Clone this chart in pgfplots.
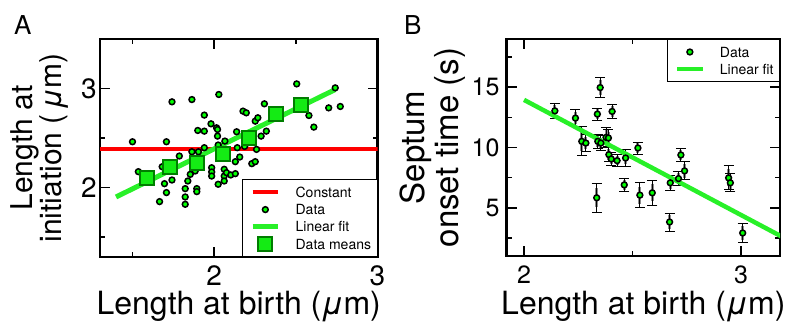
\documentclass[border=0pt]{standalone}
\usepackage{pgfplots}
\pgfplotsset{compat=1.18}
\usepackage{pgfplotstable}
\usepackage{fontspec}
\setmainfont{TeX Gyre Heros}
\definecolor{dotgreen}{RGB}{0,255,0}
\definecolor{fitgreen}{RGB}{40,240,40}
\definecolor{meanfill}{RGB}{20,235,20}
\definecolor{meanedge}{RGB}{0,125,0}
\definecolor{constred}{RGB}{255,0,0}

\pgfplotstableread{
x y
1.499 2.463
1.535 2.161
1.681 2.211
1.707 2.463
1.741 2.866
1.695 2.040
1.707 1.950
1.665 1.859
1.741 2.077
1.786 2.319
1.822 1.990
1.822 1.906
1.822 1.832
1.838 2.067
1.853 2.134
1.863 2.889
1.863 2.362
1.883 2.168
1.893 1.990
1.893 1.960
1.899 2.577
1.903 2.362
1.939 2.732
1.939 2.570
1.939 2.403
1.980 2.644
1.984 2.201
1.984 2.158
1.984 2.117
2.014 2.604
2.020 2.587
2.020 2.520
2.024 2.034
2.028 2.940
2.024 2.430
2.061 2.185
2.061 2.117
2.061 2.067
2.065 2.470
2.075 2.151
2.101 2.128
2.129 2.141
2.129 2.262
2.137 2.564
2.141 2.403
2.156 2.309
2.176 2.772
2.196 2.755
2.186 2.416
2.230 2.242
2.251 2.262
2.259 2.386
2.251 2.671
2.267 2.705
2.287 2.520
2.307 2.846
2.319 2.570
2.505 3.047
2.580 2.728
2.610 2.611
2.701 2.805
2.741 3.007
2.772 2.819
}\dataA

\pgfplotstableread{
x y
1.590 2.101
1.731 2.211
1.897 2.252
2.055 2.336
2.210 2.503
2.378 2.745
2.529 2.839
}\meansA

\pgfplotstableread{
x y ey eg
2.142 13.04 0.62 0.45
2.237 12.44 0.69 0.5
2.266 10.51 1.2 0.8
2.285 10.37 0.7 0.5
2.338 12.77 0.5 0.4
2.351 14.97 0.8 0.6
2.335 5.83 1.2 0.8
2.340 10.51 0.6 0.45
2.354 10.37 0.6 0.45
2.378 10.84 0.8 0.6
2.389 10.79 0.7 0.5
2.406 12.99 0.6 0.45
2.391 9.41 0.6 0.45
2.402 9.05 0.5 0.4
2.429 8.91 0.5 0.4
2.468 9.13 0.7 0.5
2.462 6.90 0.55 0.4
2.525 9.96 0.5 0.4
2.534 6.05 1.05 0.7
2.591 6.24 1.05 0.7
2.671 3.82 0.75 0.55
2.674 7.07 0.65 0.5
2.712 7.42 0.6 0.45
2.723 9.38 0.5 0.4
2.740 8.06 0.75 0.55
2.943 7.48 1.0 0.7
2.951 7.07 0.75 0.55
3.008 2.91 0.8 0.6
}\dataB

\pgfplotsset{
  panel/.style={
    scale only axis,
    axis line style={line width=2.8pt, line cap=rect},
    tick align=inside,
    major tick length=10pt, minor tick length=5pt,
    every tick/.style={black, line width=1.6pt},
    every minor tick/.style={black, line width=1.6pt},
    /pgf/number format/assume math mode=true,
    legend cell align=left,
    legend style={draw=black, line width=0.8pt, fill=white, inner xsep=4pt, inner ysep=4pt,
      font=\fontsize{14}{14}\selectfont,
      nodes={inner xsep=2pt, inner ysep=0pt, text height=13.6pt, text depth=3.6pt},
      /tikz/every odd column/.append style={column sep=13pt}, row sep=0pt},
    legend image code/.code={\path[draw=none,fill=none] (-6pt,-6pt) rectangle (25.6pt,6pt);
      \draw[mark repeat=2,mark phase=2,##1] plot coordinates {(0pt,0pt) (12.8pt,0pt) (25.6pt,0pt)};},
  },
  dots/.style={only marks, mark=*, mark size=2.9pt, mark options={draw=black, fill=dotgreen, line width=1.5pt}},
}

\begin{document}
\begin{tikzpicture}[x=1pt,y=1pt]
\path[use as bounding box] (0,0) rectangle (786,322);

\begin{axis}[panel,
  at={(100pt,65pt)}, anchor=south west,
  width=277.5pt, height=218pt,
  xmin=1.3, xmax=3.0, ymin=1.3, ymax=3.5,
  xtick={2,3}, minor xtick={1.5,2.5},
  ytick={2,3}, minor ytick={1.5,2.5},
  xticklabel style={font=\fontsize{28}{28}\selectfont, anchor=base, yshift=-28pt},
  yticklabel style={font=\fontsize{28}{28}\selectfont, anchor=east, inner xsep=3pt},
  xlabel={Length at birth (\textit{μ}m)},
  xlabel style={at={(axis description cs:0.5,0)}, anchor=base, yshift=-57pt, font=\fontsize{32}{32}\selectfont},
  ylabel={Length at\\initiation (\,\textit{μ}m)},
  every axis y label/.style={at={(axis description cs:-0.1117,0.5)}, rotate=90, anchor=south,
    align=center, inner sep=0pt, font=\fontsize{30}{29}\selectfont},
  legend style={at={(axis description cs:1,0)}, anchor=south east},
]
\addplot[constred, line width=4pt] coordinates {(1.3,2.393) (3.0,2.393)};
\addlegendentry{Constant}
\addplot[dots] table[x=x,y=y] {\dataA};
\addlegendentry{Data}
\addplot[fitgreen, line width=5pt] coordinates {(1.398,1.906) (2.741,2.990)};
\addlegendentry{Linear fit}
\addplot[only marks, mark=square*, mark size=7pt, mark options={draw=meanedge, fill=meanfill, line width=2pt}] table[x=x,y=y] {\meansA};
\addlegendentry{Data means}
\end{axis}

\begin{axis}[panel,
  at={(506.7pt,66pt)}, anchor=south west,
  width=273.3pt, height=217pt,
  xmin=1.92, xmax=3.18, ymin=1, ymax=19,
  xtick={2,3}, minor xtick={2.5},
  ytick={5,10,15}, minor ytick={2.5,7.5,12.5,17.5},
  xticklabel style={font=\fontsize{25}{25}\selectfont, anchor=base, yshift=-27pt},
  yticklabel style={font=\fontsize{25}{25}\selectfont, anchor=east, inner xsep=7pt},
  xlabel={Length at birth (\textit{μ}m)},
  xlabel style={at={(axis description cs:0.5,0)}, anchor=base, yshift=-58.5pt, font=\fontsize{32}{32}\selectfont},
  ylabel={Septum\\onset time (s)},
  every axis y label/.style={at={(axis description cs:-0.150,0.5)}, rotate=90, anchor=south,
    align=center, inner sep=0pt, font=\fontsize{33}{34}\selectfont},
  legend style={at={(axis description cs:1,1)}, anchor=north east},
]
\addplot[draw=none, mark=none, forget plot,
  error bars/.cd, y dir=both, y explicit,
  error bar style={draw=black!45, line width=3pt},
  error mark=none]
  table[x=x,y=y,y error=eg] {\dataB};
\addplot[dots,
  error bars/.cd, y dir=both, y explicit,
  error bar style={black, line width=0.9pt},
  error mark options={rotate=90, black, mark size=5pt, line width=0.9pt}]
  table[x=x,y=y,y error=ey] {\dataB};
\addlegendentry{Data}
\addplot[fitgreen, line width=4.5pt] coordinates {(2.0,13.95) (3.189,2.60)};
\addlegendentry{Linear fit}
\end{axis}

\node[anchor=base west, inner sep=0pt, font=\fontsize{26}{26}\selectfont] at (14,287) {A};
\node[anchor=base west, inner sep=0pt, font=\fontsize{26}{26}\selectfont] at (404,287) {B};
\end{tikzpicture}
\end{document}
